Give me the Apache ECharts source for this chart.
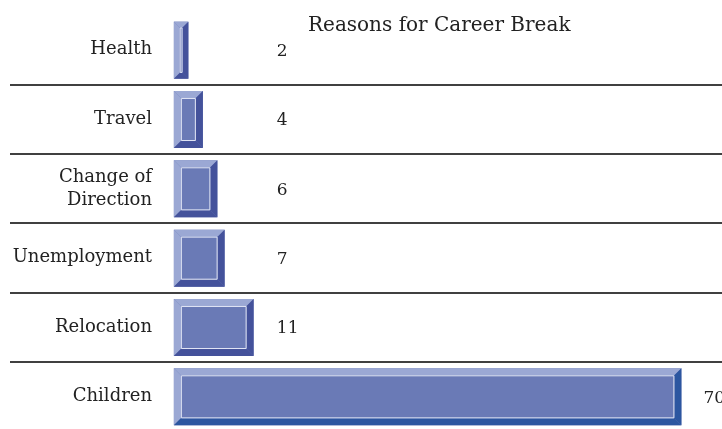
<!DOCTYPE html>
<html>
<head>
<meta charset="utf-8">
<script src="https://cdn.jsdelivr.net/npm/echarts@6/dist/echarts.min.js"></script>
<style>html,body{margin:0;padding:0;background:#fff;}#c{width:722px;height:429px;}</style>
</head>
<body>
<div id="c"></div>
<script>
const categories = ['Health', 'Travel', 'Change of\nDirection', 'Unemployment', 'Relocation', 'Children'];
const values = [2, 4, 6, 7, 11, 70];
const titleText = 'Reasons for Career Break';

const FONT = '"DejaVu Serif", serif';
const LIGHT = '#9ba8d4', MID = '#6a7ab6', DARK = '#44529b', DARK_TOP = '#2c56a0', EDGE = '#e2e6f5';

const chart = echarts.init(document.getElementById('c'), null, {renderer: 'canvas'});
const maxVal = Math.max(...values);

chart.setOption({
  animation: false,
  title: {
    text: titleText, left: 303, top: 11,
    textStyle: {fontFamily: FONT, fontSize: 20, fontWeight: 'normal', color: '#222'}
  },
  grid: {left: 10, right: 0, top: 15, bottom: -2, containLabel: false, outerBoundsMode: 'none'},
  xAxis: {type: 'value', min: -22.6, max: 75.6, show: false},
  yAxis: {
    type: 'category', data: categories, inverse: true,
    offset: -150,
    axisLine: {show: false}, axisTick: {show: false},
    axisLabel: {margin: 8, fontFamily: FONT, fontSize: 18, color: '#222', lineHeight: 23, align: 'right', padding: [4, 0, 0, 0]},
    splitLine: {show: true, interval: function (i) { return i > 0 && i < categories.length; }, lineStyle: {color: '#000', width: 1.5}}
  },
  series: [{
    type: 'custom',
    data: values.map((v, i) => [v, i]),
    encode: {x: 0, y: 1},
    renderItem: function (params, api) {
      const v = api.value(0), c = api.value(1);
      const s = api.coord([0, c]);
      const e = api.coord([v, c]);
      const h = api.size([0, 1])[1] * 0.823;
      const x0 = s[0], x1 = e[0];
      const y0 = s[1] - h / 2 + 0.5, y1 = y0 + h;
      const b = Math.min(7, (x1 - x0) * 0.4);
      const dark = v === maxVal ? DARK_TOP : DARK;
      const poly = (pts, fill) => ({type: 'polygon', shape: {points: pts}, style: {fill: fill}});
      const lx = Math.max(x1 + 22, x0 + 103);
      return {
        type: 'group',
        children: [
          poly([[x0, y0], [x1, y0], [x1, y1], [x0, y1]], MID),
          poly([[x0, y0], [x1, y0], [x1 - b, y0 + b], [x0 + b, y0 + b]], LIGHT),
          poly([[x0, y0], [x0 + b, y0 + b], [x0 + b, y1 - b], [x0, y1]], LIGHT),
          poly([[x1, y0], [x1, y1], [x1 - b, y1 - b], [x1 - b, y0 + b]], dark),
          poly([[x0, y1], [x1, y1], [x1 - b, y1 - b], [x0 + b, y1 - b]], dark),
          {type: 'rect', shape: {x: x0 + b + 0.5, y: y0 + b + 0.5, width: Math.max(0, x1 - x0 - 2 * b - 1), height: h - 2 * b - 1},
           style: {fill: null, stroke: EDGE, lineWidth: 1}},
          {type: 'text', x: lx, y: s[1] + 2,
           style: {text: String(v), fill: '#222', font: '17px ' + FONT, textAlign: 'left', textVerticalAlign: 'middle'}}
        ]
      };
    }
  }]
});
</script>
</body>
</html>
